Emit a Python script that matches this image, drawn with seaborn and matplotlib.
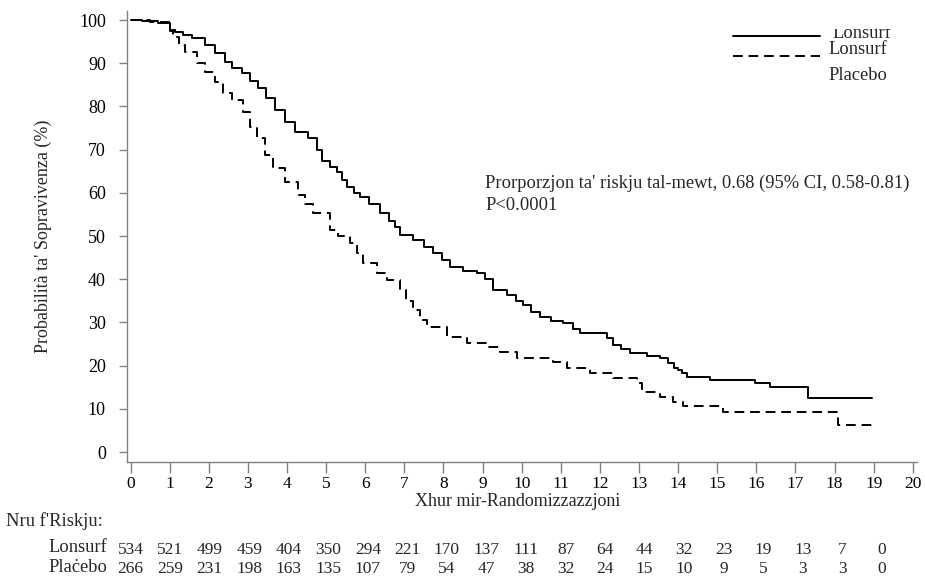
import numpy as np
import pandas as pd
import matplotlib
matplotlib.use("Agg")
import matplotlib.pyplot as plt
import matplotlib.transforms as mtransforms
from matplotlib.lines import Line2D
from matplotlib.patches import Rectangle
import seaborn as sns

# ---- data ----
lonsurf_t = [0, 0.3, 0.7, 1.0, 1.13, 1.35, 1.57, 1.9, 2.15, 2.41, 2.6, 2.85, 3.05, 3.26,
             3.45, 3.69, 3.95, 4.2, 4.54, 4.76, 4.9, 5.1, 5.27, 5.4, 5.53, 5.7, 5.87, 6.1,
             6.38, 6.6, 6.75, 6.89, 7.22, 7.5, 7.73, 7.95, 8.17, 8.5, 8.86, 9.05, 9.27,
             9.62, 9.85, 10.03, 10.25, 10.47, 10.75, 11.05, 11.3, 11.5, 12.18, 12.34,
             12.55, 12.77, 13.2, 13.54, 13.75, 13.9, 14.0, 14.1, 14.22, 14.81, 15.96,
             16.35, 17.33, 18.96]
lonsurf_s = [100, 99.8, 99.3, 97.8, 97.2, 96.5, 95.8, 94.2, 92.3, 90.3, 89.0, 87.7, 86.0,
             84.3, 82.0, 79.2, 76.5, 74.1, 72.7, 69.9, 67.4, 66.0, 64.8, 63.0, 61.3, 60.0,
             59.0, 57.5, 55.3, 53.5, 52.0, 50.2, 49.1, 47.5, 46.1, 44.5, 42.8, 42.0, 41.4,
             40.0, 37.5, 36.3, 35.0, 34.0, 32.5, 31.3, 30.4, 29.9, 28.5, 27.5, 26.4, 24.8,
             23.8, 22.9, 22.3, 21.8, 20.5, 19.5, 19.0, 18.2, 17.4, 16.7, 16.0, 15.0, 12.5,
             12.5]
placebo_t = [0, 0.5, 1.0, 1.08, 1.25, 1.39, 1.7, 1.9, 2.16, 2.36, 2.59, 2.87, 3.05, 3.23,
             3.44, 3.64, 3.95, 4.28, 4.45, 4.67, 5.1, 5.3, 5.61, 5.8, 5.95, 6.3, 6.56,
             6.89, 7.05, 7.22, 7.4, 7.58, 8.09, 8.6, 9.1, 9.44, 9.88, 10.8, 11.16, 11.75,
             12.34, 12.94, 13.08, 13.54, 13.87, 14.12, 15.15, 18.09, 19.03]
placebo_s = [100, 99.5, 97.5, 96.1, 94.3, 92.6, 90.0, 88.0, 85.6, 83.1, 81.5, 78.7, 75.2,
             72.7, 68.8, 65.7, 62.5, 59.5, 57.5, 55.3, 51.4, 50.0, 48.4, 46.0, 43.8, 41.5,
             39.8, 37.5, 35.0, 32.9, 30.5, 28.9, 26.6, 25.2, 24.3, 23.1, 21.8, 20.8, 19.4,
             18.3, 17.1, 16.0, 13.9, 12.7, 11.6, 10.6, 9.3, 6.25, 6.25]

x_ticks = list(range(0, 21))
y_ticks = list(range(0, 101, 10))
risk_months = list(range(0, 20))
risk_lonsurf = [534, 521, 499, 459, 404, 350, 294, 221, 170, 137, 111, 87, 64, 44, 32, 23, 19, 13, 7, 0]
risk_placebo = [266, 259, 231, 198, 163, 135, 107, 79, 54, 47, 38, 32, 24, 15, 10, 9, 5, 3, 3, 0]

arms = ["Lonsurf", "Placebo"]
risk_row_labels = ["Lonsurf", "Plaċebo"]

df = pd.concat([
    pd.DataFrame({"t": lonsurf_t, "s": lonsurf_s, "arm": arms[0]}),
    pd.DataFrame({"t": placebo_t, "s": placebo_s, "arm": arms[1]}),
], ignore_index=True)

sns.set_theme(style="white")
plt.rcParams['font.family'] = ['Liberation Serif', 'DejaVu Serif']

W, H = 925, 577
fig = plt.figure(figsize=(W / 100, H / 100), dpi=100)
ax = fig.add_axes([126.7 / W, 115 / H, 790 / W, 450.6 / H])

DASH = (5, 3)
sns.lineplot(data=df, x="t", y="s", hue="arm", style="arm",
             palette={"Lonsurf": "black", "Placebo": "black"},
             dashes={"Lonsurf": "", "Placebo": DASH},
             drawstyle="steps-post", estimator=None, sort=False,
             linewidth=1.4, legend=False, ax=ax)

ax.set_xlim(-0.1, 20.1)
ax.set_ylim(-2.3, 102)
ax.set_xticks(x_ticks)
ax.set_yticks(y_ticks)
ax.set_xlabel("")
ax.set_ylabel("")
for s in ["top", "right"]:
    ax.spines[s].set_visible(False)
for s in ["left", "bottom"]:
    ax.spines[s].set_color("#808080")
    ax.spines[s].set_linewidth(1.0)
ax.tick_params(axis="both", which="major", bottom=True, left=True, direction="out",
               color="#808080", width=1.0, labelsize=12.5, labelcolor="black")
ax.tick_params(axis="x", length=8, pad=2)
ax.tick_params(axis="y", length=6, pad=9)
ax.tick_params(axis="y", labelsize=13)

def fy(px):
    return 1 - px / H

FS = 13.3
fig.text(43 / W, fy(236), "Probabilità ta' Sopravivenza (%)", rotation=90,
         ha="center", va="center", fontsize=13)
fig.text(518 / W, fy(502), "Xhur mir-Randomizzazzjoni", ha="center", va="center", fontsize=13)

fig.text(485 / W, fy(183), "Prorporzjon ta' riskju tal-mewt, 0.68 (95% CI, 0.58-0.81)",
         ha="left", va="center", fontsize=FS)
fig.text(485 / W, fy(205), "P<0.0001", ha="left", va="center", fontsize=FS)

# legend (as in the reference)
fig.add_artist(Line2D([733 / W, 820 / W], [fy(36), fy(36)], transform=fig.transFigure,
                      color="black", lw=1.4))
fig.add_artist(Line2D([733 / W, 820 / W], [fy(56), fy(56)], transform=fig.transFigure,
                      color="black", lw=1.4, dashes=DASH))
t1 = fig.text(832 / W, fy(38.5), arms[0], ha="left", va="baseline", fontsize=FS)
clip = Rectangle((0, 0), 1, fy(29), transform=fig.transFigure, facecolor="none", edgecolor="none")
fig.add_artist(clip)
t1.set_clip_path(clip)
t1.set_clip_on(True)
fig.text(828 / W, fy(54), arms[0], ha="left", va="baseline", fontsize=FS)
fig.text(828 / W, fy(80), arms[1], ha="left", va="baseline", fontsize=FS)

# number at risk table
trans = mtransforms.blended_transform_factory(ax.transData, fig.transFigure)
fig.text(6 / W, fy(521), "Nru f'Riskju:", ha="left", va="center", fontsize=FS)
fig.text(107 / W, fy(548), risk_row_labels[0], ha="right", va="center", fontsize=FS)
fig.text(107 / W, fy(567), risk_row_labels[1], ha="right", va="center", fontsize=FS)
for m, a, b in zip(risk_months, risk_lonsurf, risk_placebo):
    xm = m * 1.011
    ax.text(xm, fy(550), str(a), transform=trans, ha="center", va="center", fontsize=12.5)
    ax.text(xm, fy(569), str(b), transform=trans, ha="center", va="center", fontsize=12.5)

fig.savefig("out.png", dpi=100)
